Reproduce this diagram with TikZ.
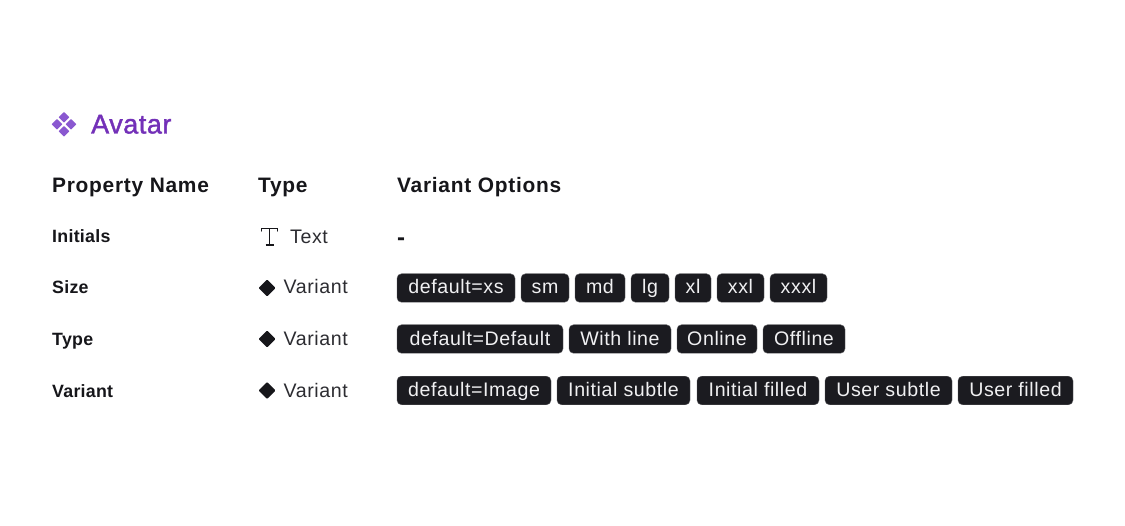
\documentclass[tikz,border=0pt]{standalone}
\usepackage{fontspec}
\setmainfont{Liberation Sans}[LetterSpace=3]
\newfontfamily\boldf{Liberation Sans Bold}[LetterSpace=3.5]
\newfontfamily\propf{Liberation Sans Bold}[LetterSpace=1.5]
\newfontfamily\mediumf{Liberation Sans}[LetterSpace=2,FakeBold=1.5]
\definecolor{chipbg}{HTML}{1B1B20}
\definecolor{chipfg}{HTML}{F0F0F2}
\definecolor{ink}{HTML}{16161A}
\definecolor{bodyink}{HTML}{2C2C31}
\definecolor{titlepurple}{HTML}{7330B8}
\definecolor{iconpurple}{HTML}{8A58D0}
\tikzset{
  x=1bp,y=-1bp,
  chip/.style={fill=chipbg,draw=chipbg!70!white,line width=0.4bp,rounded corners=4.5bp,text=chipfg,inner sep=0pt,
     minimum height=28.5bp,text height=15bp,text depth=3bp,font=\fontsize{19.6bp}{20bp}\selectfont},
  headtxt/.style={anchor=base west,inner sep=0pt,text=ink,font=\boldf\fontsize{20.9bp}{22bp}\selectfont},
  proptxt/.style={anchor=base west,inner sep=0pt,text=ink,font=\propf\fontsize{17.8bp}{20bp}\selectfont},
  typetxt/.style={anchor=base west,inner sep=0pt,text=bodyink,font=\fontsize{19.6bp}{20bp}\selectfont},
  vdiamond/.style={fill=ink,draw=none,rounded corners=0.8bp},
  pdiamond/.style={fill=iconpurple,draw=none,rounded corners=0.5bp},
}
\newcommand{\chipat}[5]{\node[chip,minimum width=#3bp-#2bp] (#5) at ({(#2+#3)/2},#1) {#4};}
\newcommand{\vdia}[1]{\fill[vdiamond] (267,#1-8.5) -- (275.5,#1) -- (267,#1+8.5) -- (258.5,#1) -- cycle;}
\newcommand{\pdia}[2]{\fill[pdiamond] (#1,#2-5.4) -- (#1+5.4,#2) -- (#1,#2+5.4) -- (#1-5.4,#2) -- cycle;}
\begin{document}
\begin{tikzpicture}
\useasboundingbox (0,0) rectangle (1125,526);
\fill[white] (0,0) rectangle (1125,526);
% title
\pdia{64}{117.3}\pdia{57}{124.3}\pdia{71}{124.3}\pdia{64}{131.3}
\node[anchor=base west,inner sep=0pt,text=titlepurple,font=\mediumf\fontsize{27bp}{30bp}\selectfont] (title) at (91,133.5) {Avatar};
% header
\node[headtxt] (hname) at (52,193) {Property Name};
\node[headtxt] (htype) at (258,193) {Type};
\node[headtxt] (hopts) at (397,193) {Variant Options};
% rows
\node[proptxt] (p1) at (52,242.5) {Initials};
\node[proptxt] (p2) at (52,294) {Size};
\node[proptxt] (p3) at (52,345.5) {Type};
\node[proptxt] (p4) at (52,397) {Variant};
% type T icon
\draw[ink,line width=1.1bp,line cap=round] (261.5,231) -- (261.5,228.5) -- (277.5,228.5) -- (277.5,231);
\draw[ink,line width=1.1bp] (269.5,228.5) -- (269.5,245);
\draw[ink,line width=1.1bp] (265.5,245) -- (273.5,245);
\node[typetxt] (t1) at (290,243.5) {Text};
\vdia{288}\vdia{339}\vdia{390.5}
\node[typetxt] (t2) at (283.5,294) {Variant};
\node[typetxt] (t3) at (283.5,345.5) {Variant};
\node[typetxt] (t4) at (283.5,397) {Variant};
\node[anchor=base west,inner sep=0pt,text=ink,font=\boldf\fontsize{24bp}{24bp}\selectfont] (dash) at (397,246) {-};
% chips
\chipat{288}{397}{515}{default=xs}{a1}
\chipat{288}{521}{569}{sm}{a2}
\chipat{288}{575}{625}{md}{a3}
\chipat{288}{631}{669}{lg}{a4}
\chipat{288}{675}{711}{xl}{a5}
\chipat{288}{717}{764}{xxl}{a6}
\chipat{288}{770}{827}{xxxl}{a7}
\chipat{339}{397}{563}{default=Default}{b1}
\chipat{339}{569}{671}{With line}{b2}
\chipat{339}{677}{757}{Online}{b3}
\chipat{339}{763}{845}{Offline}{b4}
\chipat{390.5}{397}{551}{default=Image}{c1}
\chipat{390.5}{557}{690}{Initial subtle}{c2}
\chipat{390.5}{697}{819}{Initial filled}{c3}
\chipat{390.5}{825}{952}{User subtle}{c4}
\chipat{390.5}{958}{1073}{User filled}{c5}
\end{tikzpicture}
\end{document}
